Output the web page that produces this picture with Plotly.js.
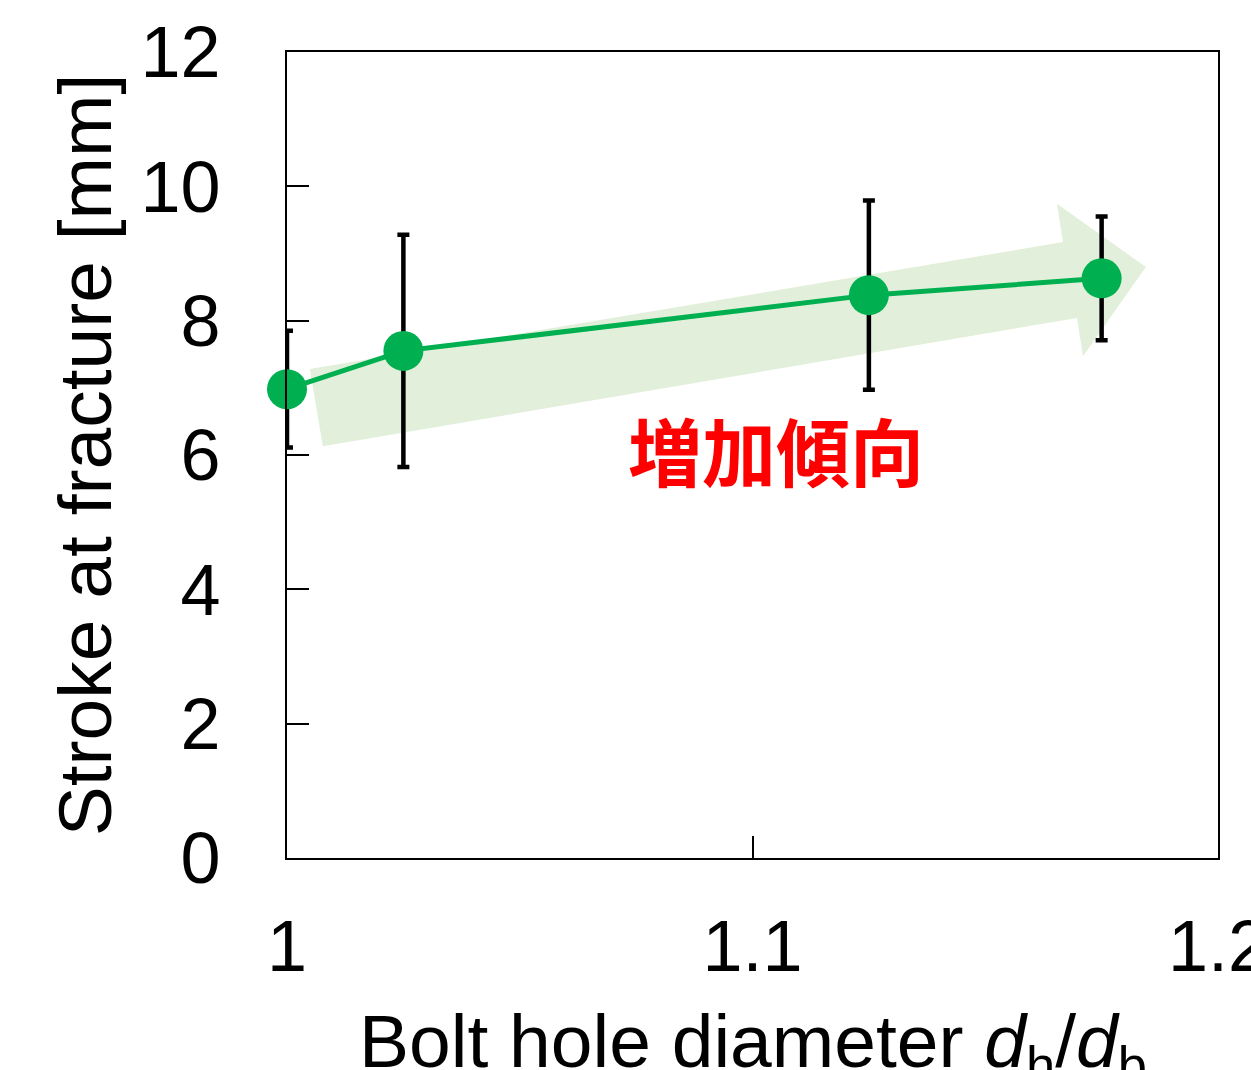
<!DOCTYPE html>
<html>
<head>
<meta charset="utf-8">
<script src="https://cdn.plot.ly/plotly-3.0.1.min.js"></script>
<style>html,body{margin:0;padding:0;background:#fff;overflow:hidden}#chart{width:1251px;height:1070px}</style>
</head>
<body>
<div id="chart"></div>
<script>
// Data
const ratio = [1.0, 1.025, 1.125, 1.175];
const stroke = [6.98, 7.55, 8.38, 8.63];
const strokeErr = [0.87, 1.73, 1.41, 0.92];
const xTickVals = [1, 1.1, 1.2];
const xTickText = ["1", "1.1", "1.2"];
const yTickVals = [0, 2, 4, 6, 8, 10, 12];
const xTitle = "Bolt hole diameter <i>d</i><sub>h</sub>/<i>d</i><sub>b</sub>";
const yTitle = "Stroke at fracture [mm]";
const annotationText = "増加傾向";
// Trend arrow outline (data coordinates)
const arrowX = [1.0049, 1.1667, 1.1654, 1.1845, 1.1710, 1.1697, 1.0077];
const arrowY = [7.28, 9.17, 9.74, 8.80, 7.47, 8.04, 6.13];

const arrowPath = arrowX.map((x, i) => (i === 0 ? "M" : "L") + x + "," + arrowY[i]).join(" ") + " Z";

const font = "Liberation Sans, Arial, sans-serif";

const trace = {
  x: ratio, y: stroke, type: "scatter", mode: "lines+markers",
  line: {color: "#00b050", width: 5},
  marker: {color: "#00b050", size: 40},
  error_y: {type: "data", array: strokeErr, visible: true, color: "#000", thickness: 4.5, width: 6},
  cliponaxis: false,
  showlegend: false
};

const layout = {
  width: 1251, height: 1070,
  margin: {l: 287, r: 33, t: 52, b: 212},
  paper_bgcolor: "#fff", plot_bgcolor: "#fff",
  font: {family: font, color: "#000", size: 72},
  xaxis: {
    range: [1, 1.2], tickvals: xTickVals, ticktext: xTickText,
    ticks: "inside", ticklen: 22, tickwidth: 2, tickcolor: "#000",
    showline: true, mirror: true, linecolor: "#000", linewidth: 2,
    showgrid: false, zeroline: false,
    ticklabelstandoff: 25, ticklabeloverflow: "allow",
    tickfont: {family: font, size: 72}
  },
  yaxis: {
    range: [0, 12], tickvals: yTickVals,
    ticks: "inside", ticklen: 22, tickwidth: 2, tickcolor: "#000",
    showline: true, mirror: true, linecolor: "#000", linewidth: 2,
    showgrid: false, zeroline: false,
    ticklabelstandoff: 50,
    tickfont: {family: font, size: 72},
    title: {text: yTitle, font: {family: font, size: 75}, standoff: 4}
  },
  shapes: [{
    type: "path", xref: "x", yref: "y", path: arrowPath,
    fillcolor: "#e2efda", line: {width: 0}, layer: "below"
  }],
  annotations: [{
    xref: "x", yref: "y", x: 1.1051, y: 6.1, text: "<b>" + annotationText + "</b>",
    showarrow: false, font: {family: "Noto Sans CJK JP, sans-serif", size: 74, color: "#ff0000"},
    xanchor: "center", yanchor: "middle"
  }, {
    xref: "paper", yref: "paper", x: 0.5, y: -0.172, text: xTitle,
    showarrow: false, font: {family: font, size: 75, color: "#000"},
    xanchor: "center", yanchor: "top"
  }]
};

Plotly.newPlot("chart", [trace], layout, {staticPlot: true, displayModeBar: false});
</script>
</body>
</html>
